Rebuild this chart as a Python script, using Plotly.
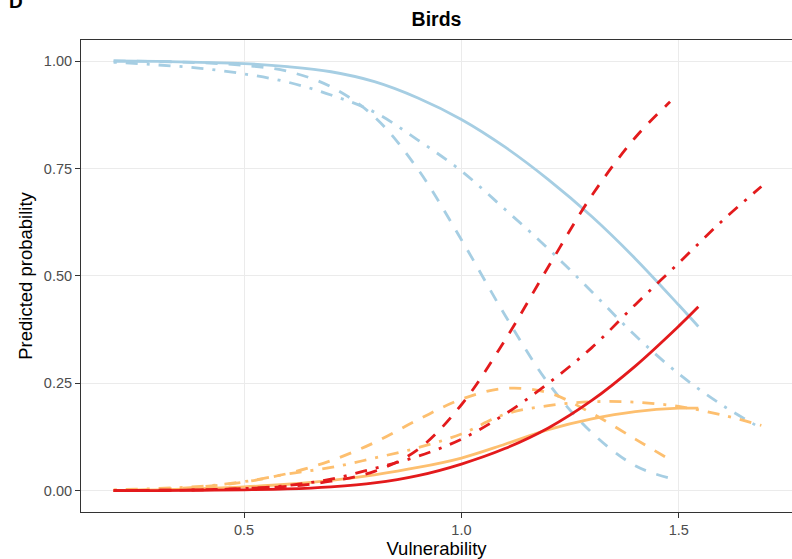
import plotly.graph_objects as go

# ---- data ----
x_solid = [0.2, 0.3, 0.4, 0.5, 0.6, 0.7, 0.8, 0.9, 1.0, 1.1, 1.2, 1.3, 1.4, 1.5, 1.545]
blue_solid = [1.000, 0.999, 0.997, 0.994, 0.987, 0.975, 0.952, 0.914, 0.864, 0.800, 0.724, 0.638, 0.540, 0.432, 0.382]
red_solid = [0.000, 0.000, 0.001, 0.002, 0.004, 0.009, 0.018, 0.035, 0.062, 0.098, 0.146, 0.210, 0.290, 0.383, 0.428]
orange_solid = [0.000, 0.002, 0.005, 0.009, 0.015, 0.024, 0.037, 0.054, 0.076, 0.108, 0.142, 0.167, 0.184, 0.192, 0.192]

x_dash = [0.2, 0.3, 0.4, 0.5, 0.6, 0.7, 0.8, 0.9, 1.0, 1.1, 1.2, 1.3, 1.4, 1.48]
blue_dash = [1.000, 0.999, 0.996, 0.990, 0.976, 0.940, 0.870, 0.748, 0.584, 0.409, 0.250, 0.135, 0.058, 0.029]
red_dash = [0.000, 0.001, 0.002, 0.005, 0.010, 0.022, 0.045, 0.096, 0.200, 0.350, 0.521, 0.687, 0.822, 0.905]
orange_dash = [0.000, 0.003, 0.009, 0.020, 0.040, 0.070, 0.112, 0.165, 0.213, 0.238, 0.228, 0.180, 0.120, 0.072]

x_dotdash = [0.2, 0.3, 0.4, 0.5, 0.6, 0.7, 0.8, 0.9, 1.0, 1.1, 1.2, 1.3, 1.4, 1.5, 1.6, 1.69]
blue_dotdash = [0.997, 0.991, 0.983, 0.970, 0.951, 0.921, 0.881, 0.816, 0.744, 0.655, 0.563, 0.463, 0.361, 0.272, 0.199, 0.145]
red_dotdash = [0.000, 0.001, 0.002, 0.005, 0.012, 0.027, 0.052, 0.080, 0.120, 0.178, 0.250, 0.333, 0.433, 0.530, 0.628, 0.708]
orange_dotdash = [0.002, 0.005, 0.010, 0.021, 0.039, 0.054, 0.076, 0.100, 0.132, 0.178, 0.198, 0.207, 0.206, 0.196, 0.176, 0.152]

x_ticks = [0.5, 1.0, 1.5]
y_ticks = [0.0, 0.25, 0.5, 0.75, 1.0]

BLUE = "#a6cee3"
ORANGE = "#fdbf6f"
RED = "#e31a1c"
LW = 2.8
DASHES = {"solid": "solid", "dash": "12px,11px", "dotdash": "3px,9px,12px,9px"}

FONT = "Liberation Sans, Arial, Helvetica, sans-serif"

series = [
    (x_solid, blue_solid, BLUE, "solid"),
    (x_dash, blue_dash, BLUE, "dash"),
    (x_dotdash, blue_dotdash, BLUE, "dotdash"),
    (x_solid, orange_solid, ORANGE, "solid"),
    (x_dash, orange_dash, ORANGE, "dash"),
    (x_dotdash, orange_dotdash, ORANGE, "dotdash"),
    (x_solid, red_solid, RED, "solid"),
    (x_dash, red_dash, RED, "dash"),
    (x_dotdash, red_dotdash, RED, "dotdash"),
]

fig = go.Figure()
for xs, ys, col, sty in series:
    fig.add_trace(go.Scatter(
        x=xs, y=ys, mode="lines",
        line=dict(color=col, width=LW, dash=DASHES[sty], shape="spline", smoothing=1.0),
        showlegend=False, hoverinfo="skip",
    ))

fig.update_layout(
    width=792, height=559,
    margin=dict(l=81, r=0, t=40, b=47),
    paper_bgcolor="white", plot_bgcolor="white",
    font=dict(family=FONT, color="black"),
    title=dict(text="<b>Birds</b>", x=0.5, xref="paper", xanchor="center",
               y=1 - 19 / 559, yanchor="middle", font=dict(size=19.5, color="black")),
    showlegend=False,
)

fig.update_xaxes(
    range=[0.1249, 1.7605], tickvals=x_ticks, tickformat=".1f",
    showgrid=True, gridcolor="#ebebeb", gridwidth=1.1, zeroline=False,
    showline=True, linecolor="#333333", linewidth=1, mirror=True,
    ticks="outside", ticklen=5, tickcolor="#333333", tickwidth=1,
    tickfont=dict(size=14.5, color="#4d4d4d"),
    title=dict(text="Vulnerability", font=dict(size=18.5, color="black"), standoff=4),
)
fig.update_yaxes(
    range=[-0.0496, 1.0489], tickvals=y_ticks, tickformat=".2f",
    showgrid=True, gridcolor="#ebebeb", gridwidth=1.1, zeroline=False,
    showline=True, linecolor="#333333", linewidth=1, mirror=False,
    ticks="outside", ticklen=5, tickcolor="#333333", tickwidth=1,
    tickfont=dict(size=14.5, color="#4d4d4d"),
    title=dict(text="Predicted probability", font=dict(size=18.5, color="black"), standoff=6),
)

fig.add_annotation(text="<b>D</b>", xref="paper", yref="paper",
                   x=-81 / 711 + 7 / 711, y=(512 - 1) / 472, xanchor="left", yanchor="middle",
                   showarrow=False, font=dict(size=19, color="black"))

fig.write_html("out.html")
